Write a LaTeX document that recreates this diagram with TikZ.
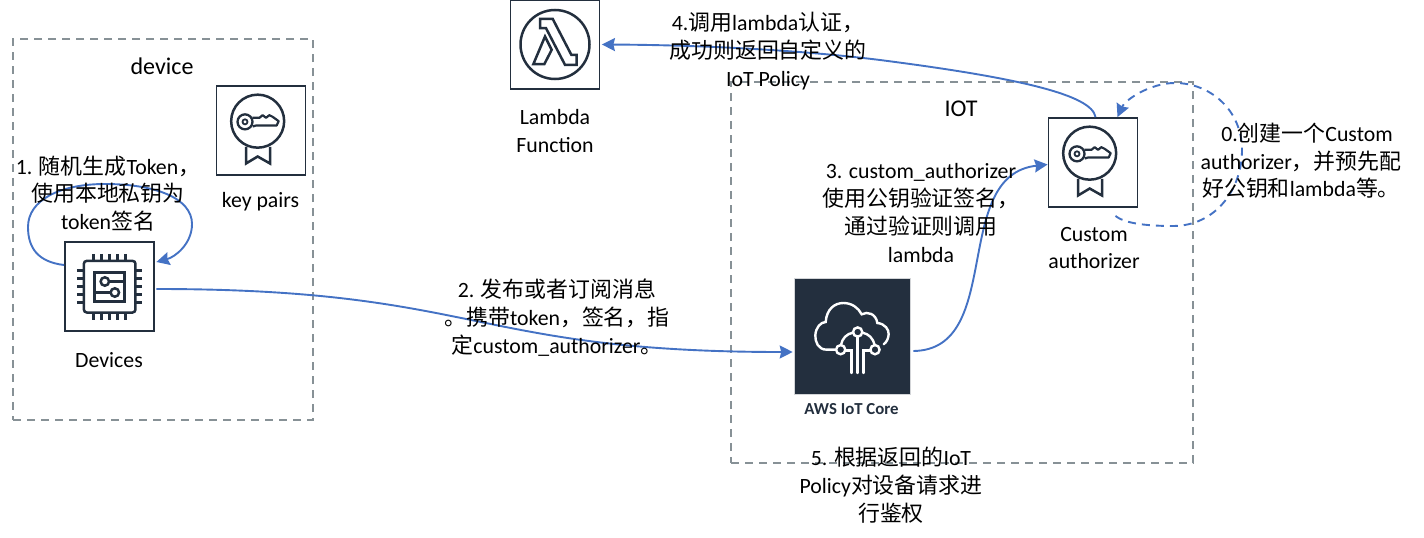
\documentclass[tikz,border=0pt]{standalone}
\usepackage{fontspec}
\setmainfont{Carlito}
\newfontfamily\cjkf{Noto Sans CJK SC}
\newcommand{\zh}[1]{{\cjkf\fontsize{21.9pt}{27.5pt}\selectfont #1}}
\usetikzlibrary{arrows.meta}
\definecolor{ink}{HTML}{232F3E}
\definecolor{flow}{HTML}{4472C4}
\definecolor{dash}{HTML}{879196}
\tikzset{
  iconbox/.style={draw=ink,line width=1.8pt,minimum size=89pt,inner sep=0pt},
  zone/.style={draw=dash,line width=1.7pt,dash pattern=on 8pt off 6pt,minimum width=#1,inner sep=0pt},
  lbl/.style={font=\fontsize{21.8pt}{27.7pt}\selectfont,align=center,text=black,inner sep=0pt},
  ttl/.style={font=\fontsize{24pt}{27.5pt}\selectfont,text=black,inner sep=0pt},
  conn/.style={draw=flow,line width=1.9pt,-{Stealth[length=13pt,width=13pt,inset=1.5pt]}},
  conndash/.style={conn,dash pattern=on 8pt off 6pt},
  keyicon/.pic={
    \begin{scope}[x=0.3333pt,y=-0.3333pt,shift={(-783,-303)},draw=ink,line width=2.5pt]
      \draw (773,275) circle[radius=26.5pt];
      \draw[line width=2.3pt] (735,277) circle[radius=7.5pt];
      \draw[line width=1.8pt] (735,277) circle[radius=2.5pt];
      \draw[line join=round,line width=2.2pt] (757,265)--(778,265)--(788,257)--(798,265)--(808,257)--(818,262)--(836,275)--(830,288)--(768,288)--(758,291);
      \draw[line join=miter] (738,352)--(738,402)--(773,381)--(810,402)--(810,352);
    \end{scope}},
  chipicon/.pic={
    \begin{scope}[x=0.3333pt,y=-0.3333pt,shift={(-327,-770)},draw=ink,line width=2.5pt]
      \draw[rounded corners=3pt] (250,693) rectangle (405,848);
      \foreach \k in {279,303,327,351,375}{
        \draw (\k,672)--(\k,693);
        \draw (\k,848)--(\k,869);
      }
      \foreach \k in {722,746,770,794,818}{
        \draw (229,\k)--(250,\k);
        \draw (405,\k)--(426,\k);
      }
      \draw[line width=3pt] (283,727) rectangle (372,815);
      \draw (313,755) circle[radius=4.2pt];
      \draw (343,788) circle[radius=4.2pt];
      \draw (326,755)--(372,755);
      \draw (283,788)--(330,788);
    \end{scope}},
  lambdaicon/.pic={
    \begin{scope}[x=0.3333pt,y=-0.3333pt,shift={(-225,-134)},draw=ink,line width=2.5pt,line join=miter]
      \draw (225,134) circle[radius=34.5pt];
      \draw (180,57)--(218,57)--(274,165)--(290,165)--(290,195)--(255,195)--(198,85)--(180,85)--cycle;
      \draw (195,110)--(215,150)--(193,193)--(160,193)--cycle;
    \end{scope}},
  iotcloud/.pic={
    \begin{scope}[x=0.3333pt,y=-0.3333pt,shift={(-216,-197)},draw=white,line width=2.4pt,line cap=round]
      \draw (165,238) -- (140,238) .. controls (115,238) and (105,215) .. (106,195)
        .. controls (107,172) and (122,155) .. (137,155)
        .. controls (140,115) and (165,98) .. (190,98)
        .. controls (215,98) and (235,112) .. (245,132)
        .. controls (262,122) and (288,130) .. (292,158)
        .. controls (315,160) and (327,178) .. (326,192)
        .. controls (325,205) and (320,215) .. (311,222);
      \draw (233,185) circle[radius=4.6pt];
      \draw (182,238) circle[radius=4.6pt];
      \draw (285,238) circle[radius=4.6pt];
      \draw (219,187) .. controls (200,190) and (186,205) .. (183,224);
      \draw (247,187) .. controls (266,190) and (280,205) .. (284,224);
      \draw (233,199)--(233,308);
      \draw (196,240)--(215,240)--(215,308);
      \draw (271,240)--(251,240)--(251,308);
    \end{scope}}
}
\begin{document}
\begin{tikzpicture}[x=1pt,y=-1pt]
\useasboundingbox (0,0) rectangle (1424,538);
% zones
\node[zone=300pt,minimum height=381pt] (devzone) at (163,229.5) {};
\node[zone=462pt,minimum height=381pt] (iotzone) at (962,272.5) {};
% icon boxes
\node[iconbox] (dev) at (109.5,286.5) {};
\pic at (dev.center) {chipicon};
\node[iconbox] (keys) at (261,130.5) {};
\pic at (keys.center) {keyicon};
\node[iconbox] (lam) at (555,44.5) {};
\pic at (lam.center) {lambdaicon};
\node[iconbox] (auth) at (1093,162.5) {};
\pic at (auth.center) {keyicon};
\node[fill=ink,draw=ink!20,line width=0.6pt,minimum size=116pt,inner sep=0pt] (iot) at (852,336) {};
\pic at (iot.center) {iotcloud};
% connectors
\draw[conn] ([yshift=21.5pt]dev.west) .. controls (38,262) and (28,248) .. (28,227)
  .. controls (28,200) and (60,184) .. (105,184)
  .. controls (155,184) and (192,198) .. (192,224)
  .. controls (192,244) and (175,257) .. ([xshift=1.5pt,yshift=24.5pt]dev.east);
\draw[conn] ([xshift=1.5pt,yshift=-2.5pt]dev.east) .. controls (480,289) and (470,352) .. ([xshift=-1pt,yshift=-16pt]iot.west);
\draw[conn] ([xshift=3pt,yshift=-15pt]iot.east) .. controls (1005,350) and (950,175) .. ([yshift=-2pt]auth.west);
\draw[conn] ([xshift=2.5pt]auth.north) .. controls (1092,95) and (1020,78) .. (880,60)
  .. controls (800,50) and (700,45) .. ([xshift=1.5pt]lam.east);
\draw[conndash] ([xshift=22.5pt,yshift=-8pt]auth.south) .. controls (1125,224) and (1150,226) .. (1173,226)
  .. controls (1215,226) and (1242,190) .. (1242,150)
  .. controls (1242,110) and (1210,83) .. (1175,83)
  .. controls (1150,83) and (1125,100) .. ([xshift=24.5pt]auth.north);
% labels
\node[ttl] (tdevice) at (162,66) {device};
\node[lbl] (tkeys) at (260.5,202) {key pairs};
\node[lbl] (tdevs) at (109,360) {Devices};
\node[lbl] (t1) at (108,193.5) {1. \zh{随机生成}Token\zh{，}\\\zh{使用本地私钥为}\\token\zh{签名}};
\node[lbl] (t2) at (557,317.5) {2. \zh{发布或者订阅消息}\\\zh{。携带}token\zh{，签名，指}\\\zh{定}custom\_authorizer\zh{。}};
\node[lbl] (t3) at (921,213) {3. custom\_authorizer\\\zh{使用公钥验证签名，}\\\zh{通过验证则调用}\\lambda};
\node[lbl] (t4) at (768,51) {4.\zh{调用}lambda\zh{认证，}\\\zh{成功则返回自定义的}\\IoT Policy};
\node[lbl] (t0) at (1301,161) {\hspace{12pt}0.\zh{创建一个}Custom\\authorizer\zh{，并预先配}\\\zh{好公钥和}lambda\zh{等。}};
\node[lbl] (t5) at (891,485) {5. \zh{根据返回的}IoT\\Policy\zh{对设备请求进}\\\zh{行鉴权}};
\node[ttl] (tiot) at (961,109) {IOT};
\node[lbl] (tauth) at (1094,248) {Custom\\authorizer};
\node[lbl] (tlam) at (555,131) {Lambda\\Function};
\node[font=\fontsize{16.8pt}{18pt}\selectfont\bfseries,text=ink,inner sep=0pt] (tcore) at (851.5,409) {AWS IoT Core};
\end{tikzpicture}
\end{document}
